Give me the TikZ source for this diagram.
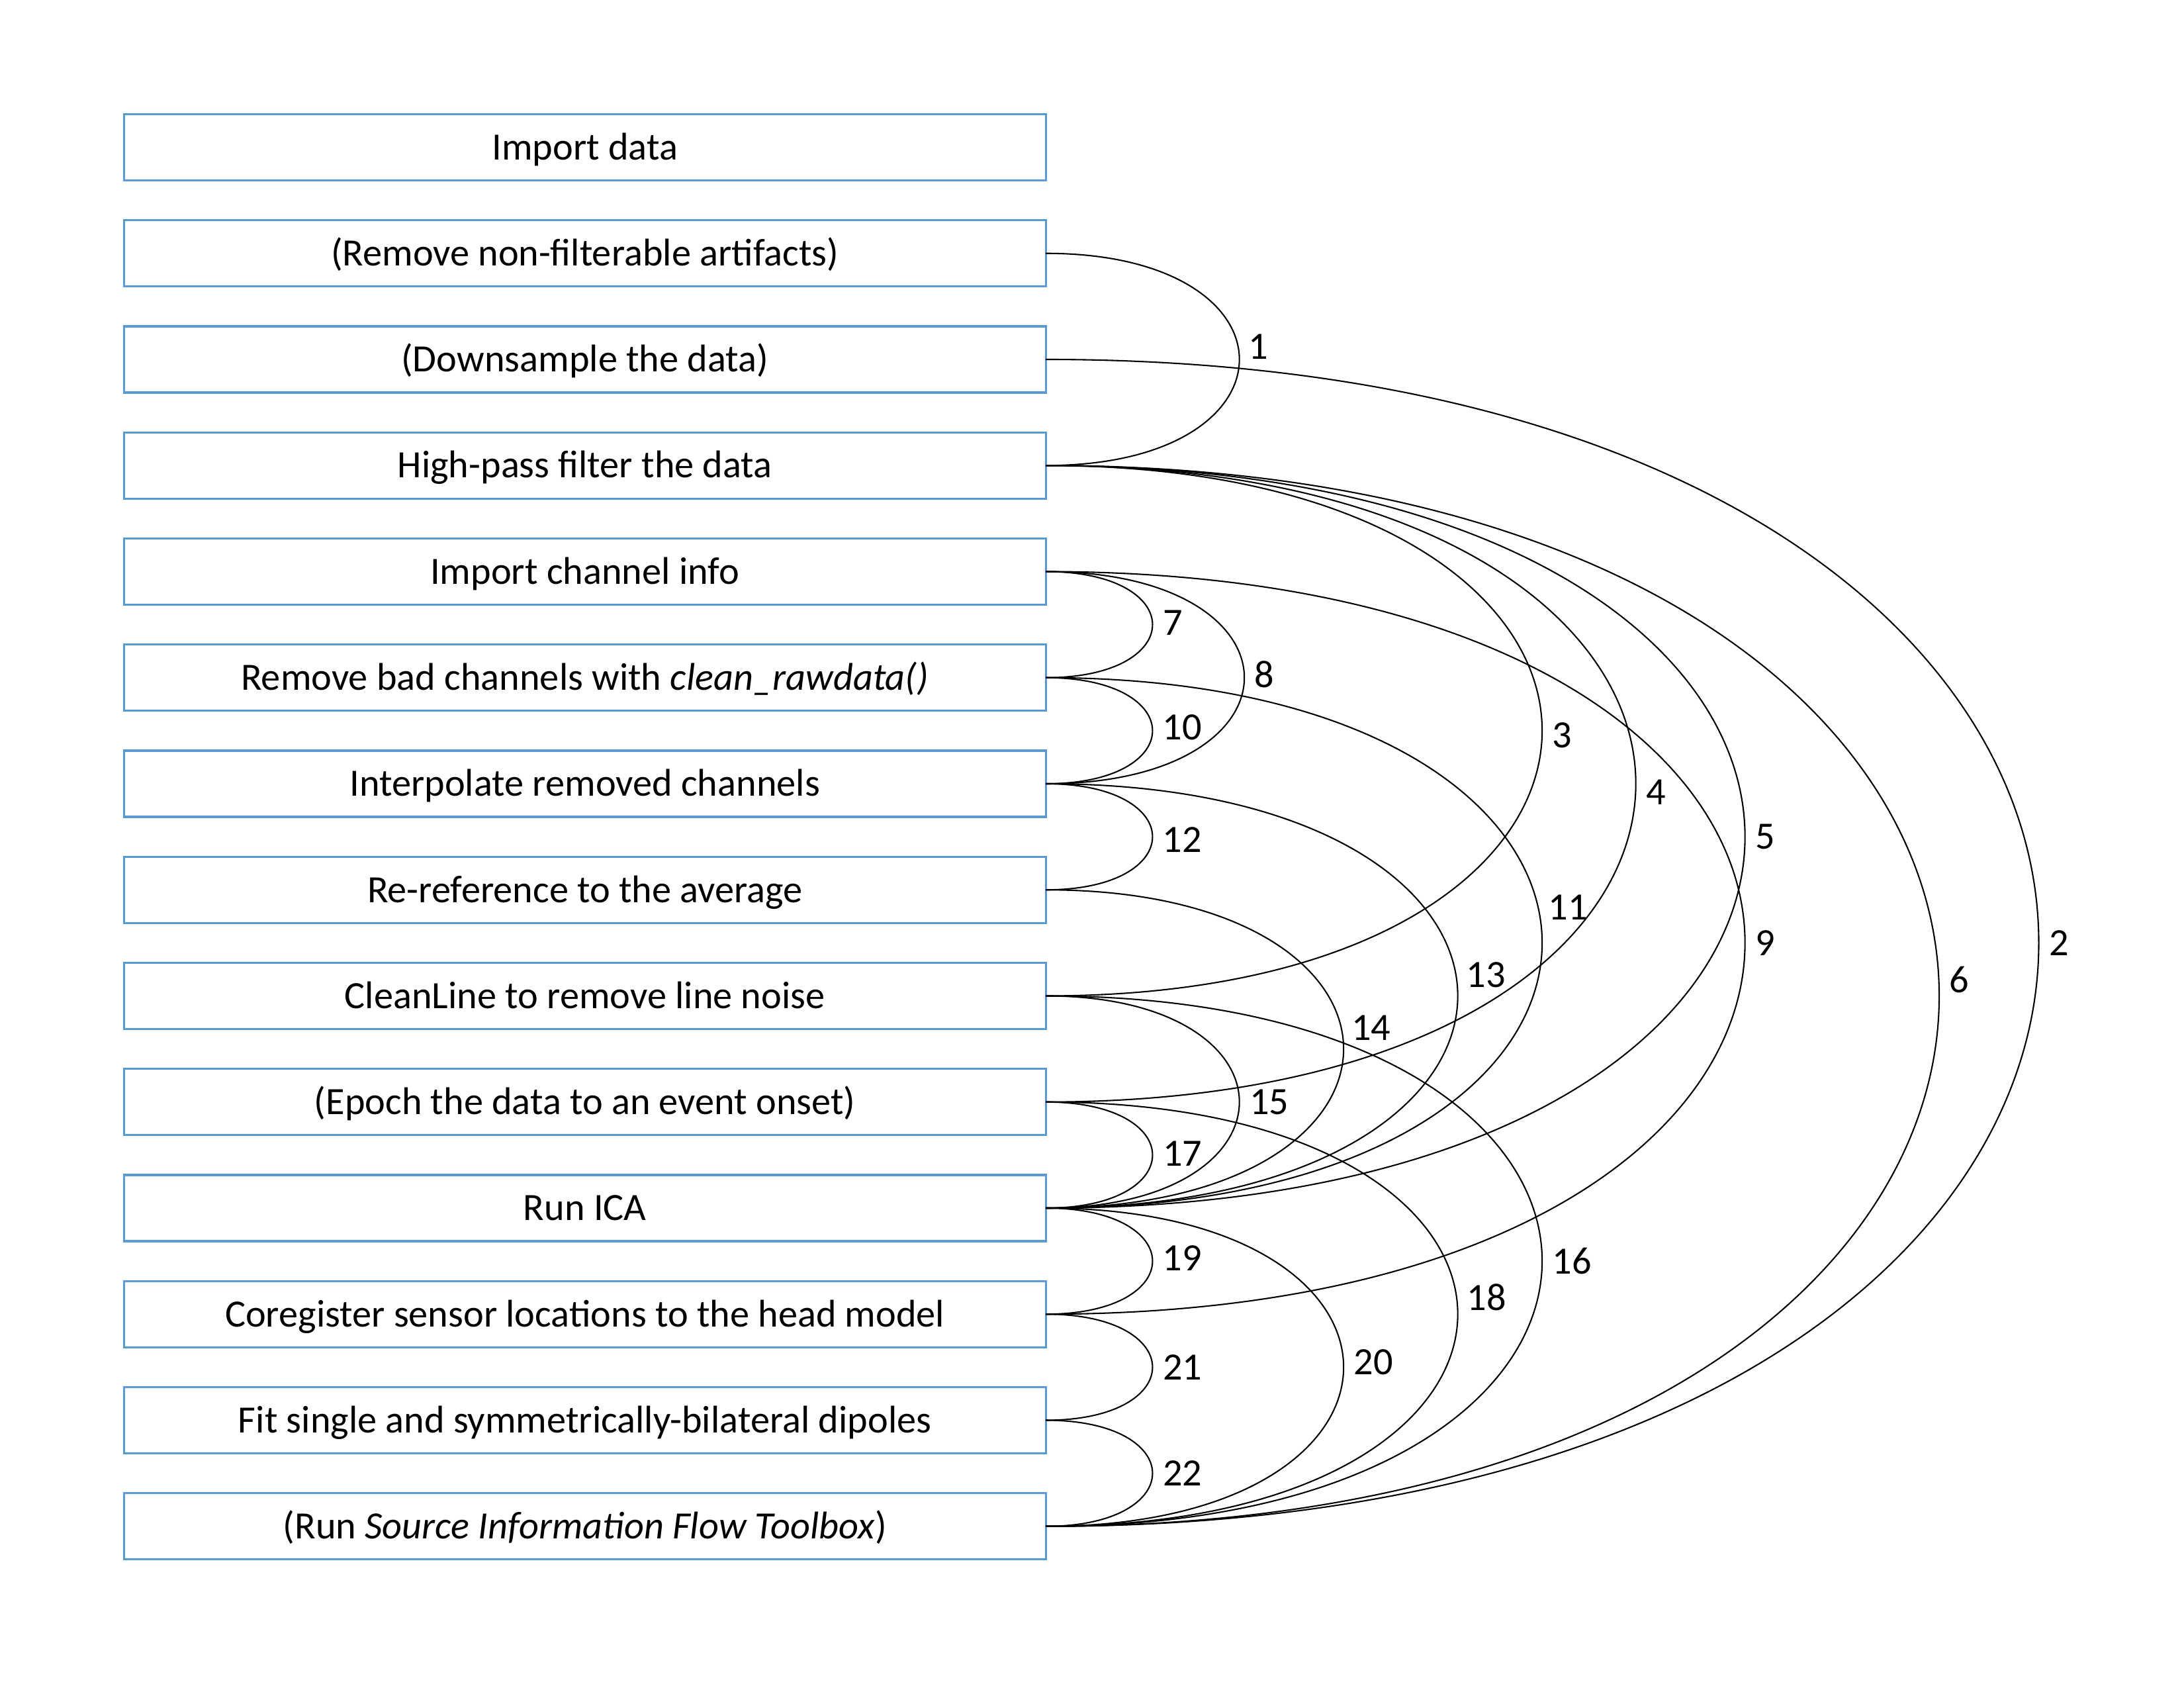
\documentclass[tikz,border=0pt]{standalone}
\usepackage{fontspec}
\setmainfont{Carlito}
\usepackage{tikz}
\usetikzlibrary{positioning}
\definecolor{boxblue}{RGB}{91,155,213}
\tikzset{
    stage/.style={draw=boxblue,line width=0.75pt,minimum width=334.3pt,minimum height=24pt,inner sep=0pt,outer sep=0pt,text height=11pt,text depth=2pt,font=\fontsize{14pt}{17pt}\selectfont},
    bow/.style={out=0,in=0,looseness=#1},
    num/.style={right=2.5pt,inner sep=1pt,font=\fontsize{14pt}{17pt}\selectfont}
}

\begin{document}
\begin{tikzpicture}[node distance=14.46pt,line width=0.5pt]
    \useasboundingbox (0,0) rectangle (792pt,-612pt);
    \node[stage] (import) at (212.1pt,-53.4pt) {Import data};
    \node[stage,below=of import] (artifacts) {(Remove non-filterable artifacts)};
    \node[stage,below=of artifacts] (downsample) {(Downsample the data)};
    \node[stage,below=of downsample] (highpass) {High-pass filter the data};
    \node[stage,below=of highpass] (chaninfo) {Import channel info};
    \node[stage,below=of chaninfo] (badchan) {Remove bad channels with \textit{clean\_rawdata()}};
    \node[stage,below=of badchan] (interp) {Interpolate removed channels};
    \node[stage,below=of interp] (reref) {Re-reference to the average};
    \node[stage,below=of reref] (cleanline) {CleanLine to remove line noise};
    \node[stage,below=of cleanline] (epoch) {(Epoch the data to an event onset)};
    \node[stage,below=of epoch] (ica) {Run ICA};
    \node[stage,below=of ica] (coreg) {Coregister sensor locations to the head model};
    \node[stage,below=of coreg] (dipfit) {Fit single and symmetrically-bilateral dipoles};
    \node[stage,below=of dipfit] (sift) {(Run \textit{Source Information Flow Toolbox})};
    \draw (artifacts.east) to[bow=3.12] node[num,pos=0.46] {1} (highpass.east);
    \draw (downsample.east) to[bow=2.91] node[num,pos=0.5] {2} (sift.east);
    \draw (highpass.east) to[bow=3.2] node[num,pos=0.506] {3} (cleanline.east);
    \draw (highpass.east) to[bow=3.17] node[num,pos=0.509] {4} (epoch.east);
    \draw (highpass.east) to[bow=3.22] node[num,pos=0.5] {5} (ica.east);
    \draw (highpass.east) to[bow=2.88] node[num,pos=0.49] {6} (sift.east);
    \draw (chaninfo.east) to[bow=3.44] node[num,pos=0.49] {7} (badchan.east);
    \draw (chaninfo.east) to[bow=3.2] node[num,pos=0.49] {8} (interp.east);
    \draw (chaninfo.east) to[bow=3.22] node[num,pos=0.5] {9} (coreg.east);
    \draw (badchan.east) to[bow=3.44] node[num,pos=0.48] {10} (interp.east);
    \draw (badchan.east) to[bow=3.2] node[num,pos=0.455] {11} (ica.east);
    \draw (interp.east) to[bow=3.44] node[num,pos=0.52] {12} (reref.east);
    \draw (interp.east) to[bow=3.32] node[num,pos=0.467] {13} (ica.east);
    \draw (reref.east) to[bow=3.2] node[num,pos=0.456] {14} (ica.east);
    \draw (cleanline.east) to[bow=3.12] node[num,pos=0.5] {15} (ica.east);
    \draw (cleanline.east) to[bow=3.2] node[num,pos=0.5] {16} (sift.east);
    \draw (epoch.east) to[bow=3.44] node[num,pos=0.49] {17} (ica.east);
    \draw (epoch.east) to[bow=3.32] node[num,pos=0.473] {18} (sift.east);
    \draw (ica.east) to[bow=3.44] node[num,pos=0.48] {19} (coreg.east);
    \draw (ica.east) to[bow=3.2] node[num,pos=0.49] {20} (sift.east);
    \draw (coreg.east) to[bow=3.44] node[num,pos=0.5] {21} (dipfit.east);
    \draw (dipfit.east) to[bow=3.44] node[num,pos=0.5] {22} (sift.east);
\end{tikzpicture}
\end{document}
